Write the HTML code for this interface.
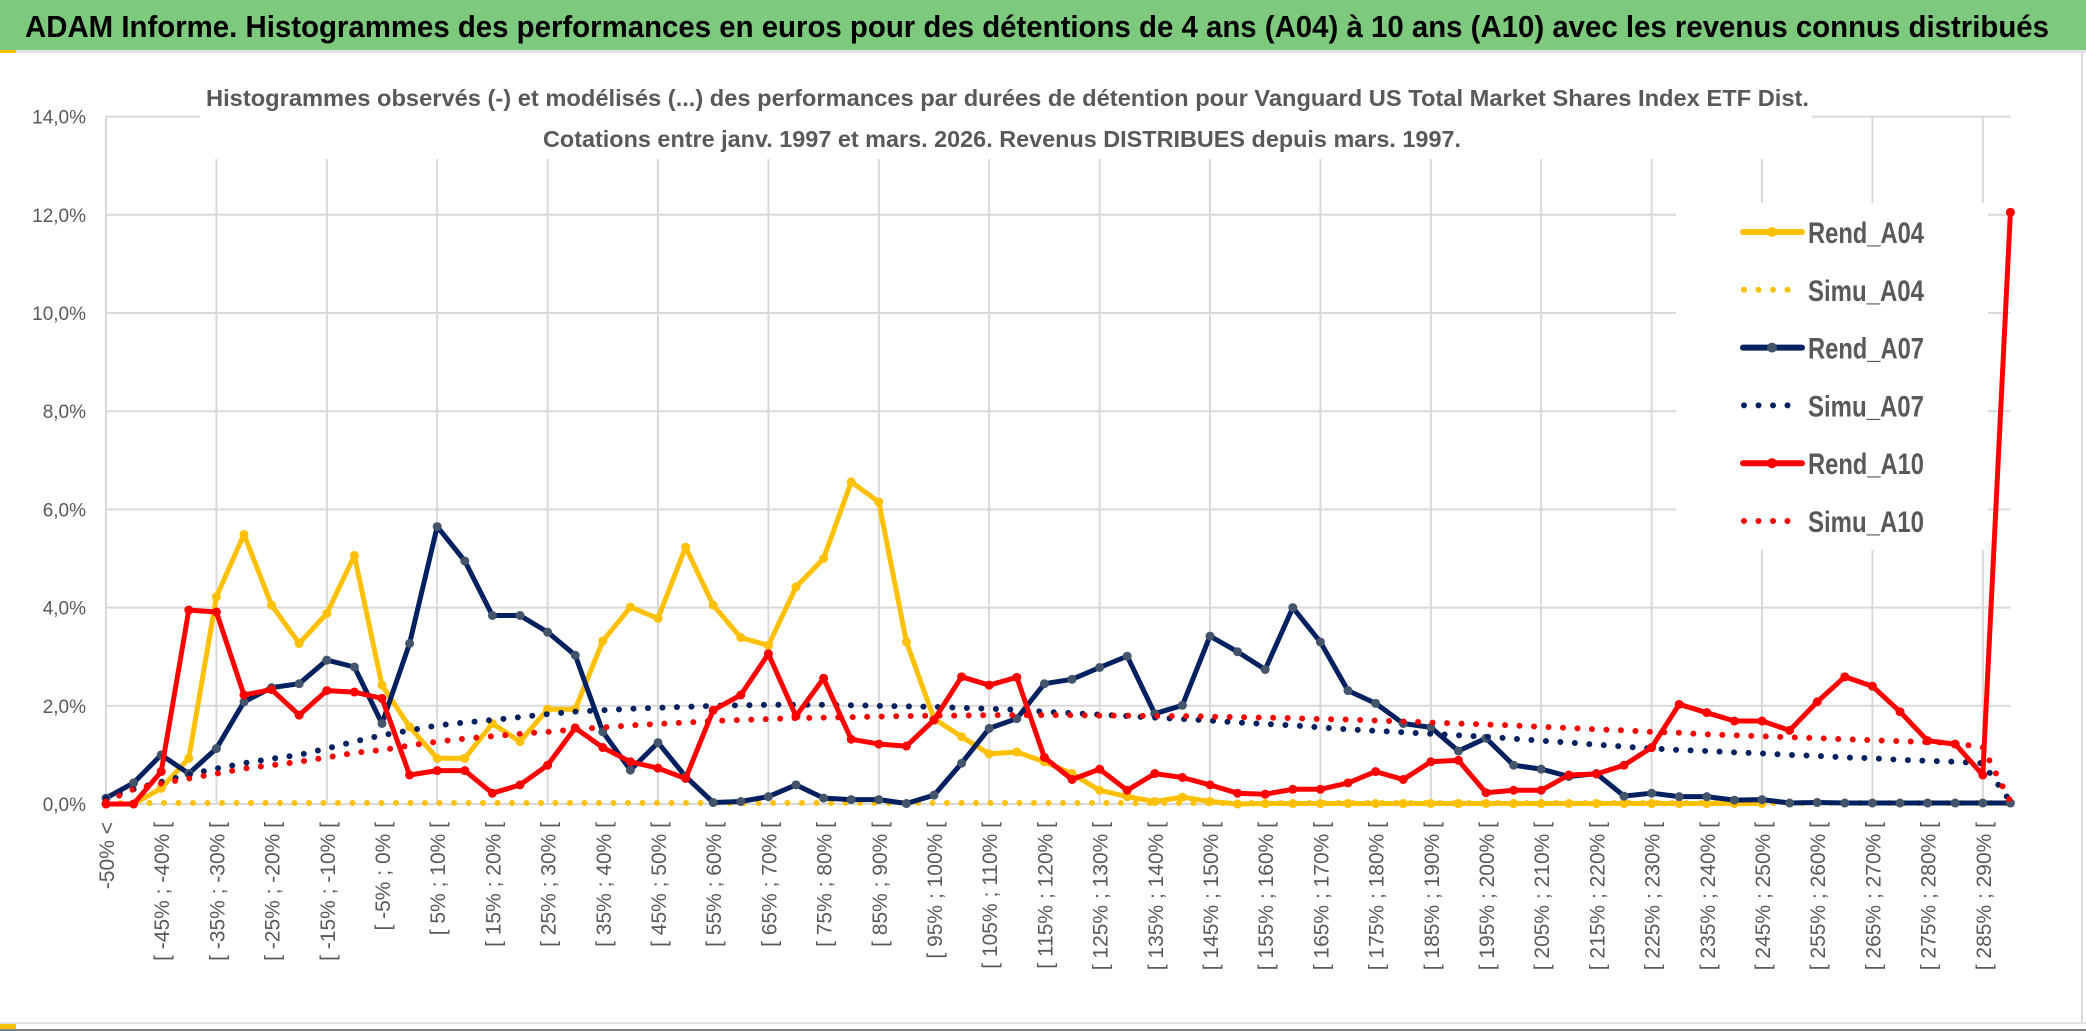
<!DOCTYPE html>
<html><head><meta charset="utf-8">
<style>
html,body{margin:0;padding:0;background:#fff;}
svg{display:block;font-family:"Liberation Sans",sans-serif;}
</style></head>
<body>
<svg id="chart" width="2086" height="1031" viewBox="0 0 2086 1031" xmlns="http://www.w3.org/2000/svg">
<rect x="0" y="0" width="2086" height="1031" fill="#ffffff"/>
<rect x="0" y="0" width="2086" height="50" fill="#7dc97d"/>
<rect x="0" y="50" width="2086" height="3" fill="#e2e2e2"/>
<rect x="0" y="50" width="16" height="3" fill="#ffc000"/>
<text x="25" y="37" font-size="31" font-weight="bold" fill="#000" textLength="2024" lengthAdjust="spacingAndGlyphs">ADAM Informe. Histogrammes des performances en euros pour des détentions de 4 ans (A04) à 10 ans (A10) avec les revenus connus distribués</text>
<rect x="2081" y="53" width="2" height="970" fill="#d9d9d9"/>
<rect x="0" y="1022" width="2086" height="2" fill="#e2e2e2"/>
<rect x="0" y="1024" width="16" height="7" fill="#ffc000"/>
<rect x="0" y="1029" width="2086" height="2" fill="#808080"/>
<g id="grid"></g>
<rect x="200" y="60" width="1612" height="99" fill="#fff"/>
<text x="206" y="106" font-size="23" font-weight="bold" fill="#595959" textLength="1603" lengthAdjust="spacingAndGlyphs">Histogrammes observés (-) et modélisés (...) des performances par durées de détention pour Vanguard US Total Market Shares Index ETF Dist.</text>
<text x="543" y="147" font-size="23" font-weight="bold" fill="#595959" textLength="918" lengthAdjust="spacingAndGlyphs">Cotations entre janv. 1997 et mars. 2026. Revenus DISTRIBUES depuis mars. 1997.</text>
<g id="yaxis"></g>
<g id="xaxis"></g>
<rect x="1676" y="203" width="312" height="347" fill="#fff"/>
<g id="series"></g>
<g id="legend"></g>
</svg>
<script>
const yTicks = [0,2,4,6,8,10,12,14];
const yTickLabels = ["0,0%","2,0%","4,0%","6,0%","8,0%","10,0%","12,0%","14,0%"];
const rendA04 = [0,0,0.32,0.93,4.22,5.49,4.05,3.27,3.88,5.06,
 2.42,1.57,0.93,0.93,1.64,1.27,1.93,1.93,3.32,4.01,
 3.78,5.23,4.05,3.39,3.23,4.42,5.0,6.56,6.15,3.3,
 1.74,1.37,1.02,1.06,0.86,0.62,0.28,0.15,0.05,0.14,
 0.05,0,0.01,0.01,0.01,0.01,0.01,0.01,0.01,0.01,
 0.01,0.01,0.01,0.01,0.01,0.01,0.01,0.01,0.01,0.01,
 0.01,null,null,null,null,null,null,null,null,null];
const simuA04 = [0.02,0.02,0.02,0.02,0.02,0.02,0.02,0.02,0.02,0.02,
 0.02,0.02,0.02,0.02,0.02,0.02,0.02,0.02,0.02,0.02,
 0.02,0.02,0.02,0.02,0.02,0.02,0.02,0.02,0.02,0.02,
 0.02,0.02,0.02,0.02,0.02,0.02,0.02,0.02,0.02,0.02,
 0.02,0.02,0.02,0.02,0.02,0.02,0.02,0.02,0.02,0.02,
 0.02,0.02,0.02,0.02,0.02,0.02,0.02,0.02,0.02,0.02,
 0.02,0.02,0.02,0.02,0.02,0.02,0.02,0.02,0.02,0.02];
const rendA07 = [0.12,0.43,1.0,0.62,1.13,2.08,2.37,2.45,2.93,2.79,
 1.64,3.27,5.65,4.95,3.84,3.84,3.5,3.03,1.47,0.69,
 1.25,0.56,0.03,0.05,0.15,0.39,0.12,0.09,0.09,0.01,
 0.18,0.83,1.54,1.74,2.45,2.54,2.78,3.01,1.84,2.01,
 3.42,3.1,2.74,4.0,3.3,2.31,2.05,1.64,1.56,1.08,
 1.34,0.79,0.71,0.56,0.62,0.16,0.22,0.15,0.15,0.08,
 0.09,0.02,0.03,0.02,0.02,0.02,0.02,0.02,0.02,0.02];
const simuA07 = [0.12,0.3,0.45,0.6,0.72,0.83,0.92,1.0,1.13,1.27,
 1.4,1.5,1.6,1.66,1.71,1.77,1.83,1.88,1.91,1.94,
 1.96,1.98,2.0,2.01,2.02,2.02,2.02,2.01,2.0,1.99,
 1.98,1.96,1.94,1.92,1.88,1.85,1.82,1.79,1.76,1.73,
 1.7,1.66,1.63,1.6,1.56,1.52,1.49,1.46,1.43,1.4,
 1.37,1.33,1.29,1.25,1.21,1.17,1.13,1.1,1.08,1.05,
 1.03,1.0,0.98,0.95,0.93,0.9,0.88,0.86,0.83,0.05];
const rendA10 = [0,0,0.66,3.95,3.91,2.22,2.33,1.81,2.31,2.28,
 2.15,0.59,0.68,0.68,0.22,0.39,0.79,1.55,1.15,0.86,
 0.73,0.52,1.91,2.22,3.06,1.79,2.56,1.32,1.22,1.18,
 1.71,2.59,2.42,2.58,0.95,0.5,0.71,0.28,0.62,0.54,
 0.39,0.22,0.2,0.3,0.3,0.43,0.66,0.5,0.86,0.89,
 0.23,0.28,0.28,0.59,0.61,0.79,1.15,2.03,1.86,1.69,
 1.69,1.5,2.08,2.59,2.4,1.88,1.29,1.22,0.59,12.05];
const simuA10 = [0.05,0.3,0.42,0.52,0.62,0.72,0.79,0.86,0.95,1.04,
 1.1,1.19,1.27,1.33,1.38,1.43,1.47,1.52,1.56,1.6,
 1.63,1.66,1.69,1.71,1.73,1.75,1.76,1.77,1.78,1.79,
 1.8,1.8,1.81,1.81,1.81,1.81,1.8,1.8,1.79,1.79,
 1.78,1.77,1.76,1.75,1.73,1.72,1.7,1.68,1.66,1.64,
 1.62,1.6,1.57,1.55,1.52,1.5,1.47,1.45,1.42,1.4,
 1.38,1.36,1.34,1.32,1.3,1.28,1.26,1.24,1.15,0.05];
const categories = ["-50% <"];
for (let k = 1; k < 70; k++) { const lo = -50 + 5*(k-1); categories.push("[ " + lo + "% ; " + (lo+5) + "% ["); }

const NS = "http://www.w3.org/2000/svg";
const X0 = 106, STEP = 27.6, Y0 = 804, PXPCT = 49.1;
function xs(i){ return X0 + STEP*i; }
function ys(v){ return Y0 - v*PXPCT; }
function mk(tag, attrs, parent){ const e = document.createElementNS(NS, tag); for (const k in attrs) e.setAttribute(k, attrs[k]); parent.appendChild(e); return e; }

const grid = document.getElementById('grid');
yTicks.forEach(v => {
  const l = mk('line', {x1:X0, x2:xs(69), y1:ys(v), y2:ys(v), stroke:'#d9d9d9', 'stroke-width':2}, grid);
  
  
});
for (let i = 0; i < categories.length; i += 4) {
  const l = mk('line', {x1:xs(i), x2:xs(i), y1:ys(14), y2:Y0, stroke:'#d9d9d9', 'stroke-width':2}, grid);
  
  
}
const yax = document.getElementById('yaxis');
yTicks.forEach((v, i) => {
  const t = mk('text', {x:86, y:ys(v)+7, 'font-size':19, fill:'#595959', 'text-anchor':'end'}, yax);
  t.textContent = yTickLabels[i];
  
  
});
const xax = document.getElementById('xaxis');
categories.forEach((c, i) => {
  if (i % 2) return;
  const x = xs(i) + 8, y = 822;
  const t = mk('text', {x:x, y:y, 'font-size':21, fill:'#595959', 'text-anchor':'end', transform:'rotate(-90 '+x+' '+y+')'}, xax);
  t.textContent = c;
  
  
});
const ser = document.getElementById('series');
function pathFor(arr){ let d = '', pen = false; arr.forEach((v,i) => { if (v === null) { pen = false; return; } d += (pen ? 'L' : 'M') + xs(i).toFixed(1) + ',' + ys(v).toFixed(1); pen = true; }); return d; }
function solid(arr, color, mcol, name){
  const g = mk('g', {}, ser);
  
  
  mk('path', {d:pathFor(arr), fill:'none', stroke:color, 'stroke-width':5, 'stroke-linejoin':'round'}, g);
  arr.forEach((v,i) => { if (v === null) return;
    const c = mk('circle', {cx:xs(i), cy:ys(v), r:4.5, fill:mcol}, g);
    
    
  });
}
function dotted(arr, color, name){
  const p = mk('path', {d:pathFor(arr), fill:'none', stroke:color, 'stroke-width':6, 'stroke-linecap':'round', 'stroke-dasharray':'0 14.5'}, ser);
  
  
}
solid(rendA04, '#ffc000', '#ffc000', 'rend-a04-line');
dotted(simuA04, '#ffc000', 'simu-a04-line');
solid(rendA07, '#002060', '#44546a', 'rend-a07-line');
dotted(simuA07, '#002060', 'simu-a07-line');
solid(rendA10, '#ff0000', '#ff0000', 'rend-a10-line');
dotted(simuA10, '#ff0000', 'simu-a10-line');

const legendNames = ["Rend_A04","Simu_A04","Rend_A07","Simu_A07","Rend_A10","Simu_A10"];
const legendColors = ['#ffc000','#ffc000','#002060','#002060','#ff0000','#ff0000'];
const lg = document.getElementById('legend');
legendNames.forEach((n, i) => {
  const y = 232 + i*57.8;
  const g = mk('g', {}, lg);
  
  
  if (i % 2 === 0) {
    mk('line', {x1:1743, x2:1802, y1:y, y2:y, stroke:legendColors[i], 'stroke-width':6, 'stroke-linecap':'round'}, g);
    mk('circle', {cx:1772, cy:y, r:5, fill: i===2 ? '#44546a' : legendColors[i]}, g);
  } else {
    mk('line', {x1:1744, x2:1798, y1:y, y2:y, stroke:legendColors[i], 'stroke-width':6, 'stroke-linecap':'round', 'stroke-dasharray':'0 14.5'}, g);
  }
  const t = mk('text', {x:1808, y:y+11, 'font-size':30, 'font-weight':'bold', fill:'#595959', textLength:116, lengthAdjust:'spacingAndGlyphs'}, g);
  t.textContent = n;
});
</script>
</body></html>
